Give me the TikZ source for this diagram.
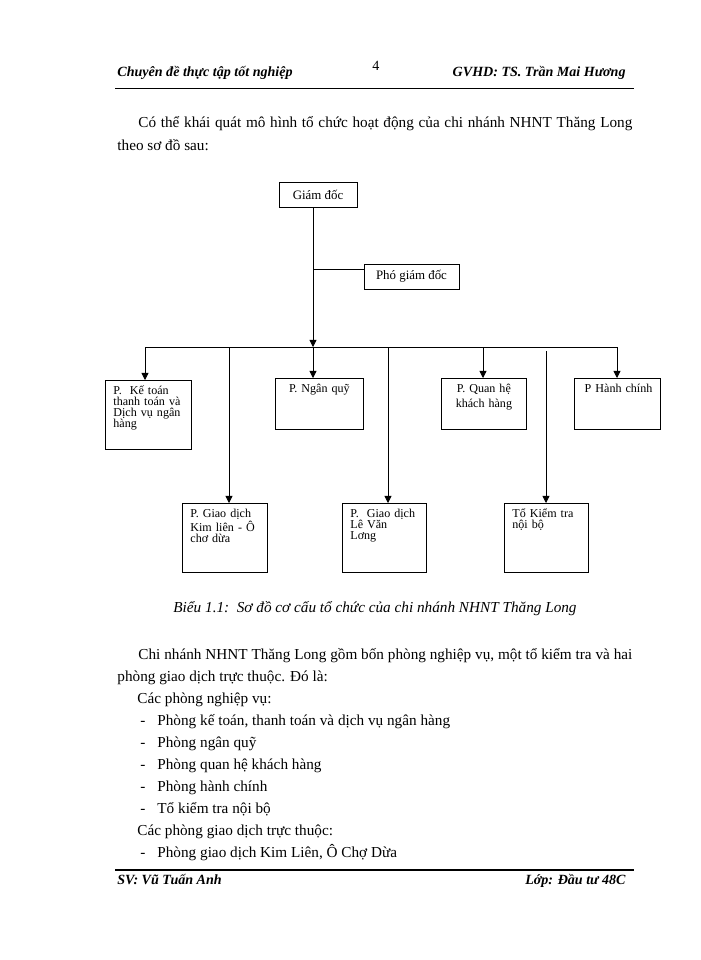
\documentclass[tikz,border=0pt]{standalone}
\usepackage{fontspec}
\setmainfont{Liberation Serif}
\usetikzlibrary{arrows.meta,positioning}

\tikzset{
  chief/.style={draw, inner sep=0pt, minimum height=7.5mm, font=\fontsize{11}{13}\selectfont},
  dept/.style 2 args={draw, anchor=north west, align=left, text width=#1, text height=9.5pt, text depth=#2,
    inner xsep=2.4mm, inner ysep=1mm, font=\fontsize{10.3}{9.4}\selectfont},
  link/.style={-{Triangle[width=6pt,length=6pt]}},
  body/.style={anchor=base west, inner sep=0pt, font=\fontsize{13}{18}\selectfont},
  pagehead/.style={inner sep=0pt, font=\fontsize{12}{14}\selectfont\bfseries\itshape},
}

\begin{document}
\begin{tikzpicture}[x=0.3mm, y=-0.3mm, line width=0.7pt]
  \path[use as bounding box, fill=white] (0,0) rectangle (700,960);

  % Page header
  \node[pagehead, anchor=base west] (headleft) at (117,77) {Chuyên đề thực tập tốt nghiệp};
  \node[inner sep=0pt, anchor=base, font=\fontsize{12}{14}\selectfont] (pagenum) at (376,71) {4};
  \node[pagehead, anchor=base east] (headright) at (626,77) {GVHD: TS. Trần Mai Hương};
  \draw[line width=1.5pt] (115,88.5) -- (634,88.5);

  % Intro text
  \node[body] (intro1) at (138,128) {\makebox[148.2mm][s]{Có thể khái quát mô hình tổ chức hoạt động của chi nhánh NHNT Thăng Long}};
  \node[body] (intro2) at (117,150) {theo sơ đồ sau:};

  % Board
  \node[chief, minimum width=23.4mm] (gd) at (318,194.5) {Giám đốc};
  \node[chief, minimum width=28.5mm] (pgd) at (411.5,276.5) {Phó giám đốc};

  % Departments, first row
  \node[dept={21mm}{15.5mm}] (ketoan) at (105,380) {P.\ \ Kế toán\\thanh toán và\\Dịch vụ ngân\\hàng};
  \node[dept={21.6mm}{9.96mm}, align=center] (nganquy) at (275,378) {P. Ngân quỹ};
  \node[dept={20.7mm}{9.96mm}, align=center] (quanhe) at (441,378) {P. Quan hệ\\[3pt]khách hàng};
  \node[dept={21mm}{9.96mm}, align=right] (hanhchinh) at (574,378) {P Hành chính};

  % Second row
  \node[dept={20.7mm}{15.5mm}] (kimlien) at (182,503) {P. Giao dịch\\Kim liên - Ô\\chơ dừa};
  \node[dept={20.4mm}{15.5mm}] (levanlong) at (342,503) {P.\ \ Giao dịch\\Lê Văn\\Lơng};
  \node[dept={20.4mm}{15.5mm}] (tokiemtra) at (504,503) {Tổ Kiểm tra\\nội bộ};

  % Connectors
  \coordinate (bus) at (313,347);
  \coordinate (pgdjoin) at (313,269);
  \coordinate (b1) at (145,347);
  \coordinate (b2) at (229,347);
  \coordinate (b4) at (388,347);
  \coordinate (b5) at (483,347);
  \coordinate (b6) at (546,351);
  \coordinate (b7) at (617,347);

  \draw[link] (gd.south -| bus) -- (bus);
  \draw (pgdjoin) -- (pgdjoin -| pgd.west);
  \draw (b1) -- (b7);
  \draw[link] (b1) -- (b1 |- ketoan.north);
  \draw[link] (b2) -- (b2 |- kimlien.north);
  \draw[link] (bus) -- (bus |- nganquy.north);
  \draw[link] (b4) -- (b4 |- levanlong.north);
  \draw[link] (b5) -- (b5 |- quanhe.north);
  \draw[link] (b6) -- (b6 |- tokiemtra.north);
  \draw[link] (b7) -- (b7 |- hanhchinh.north);

  % Caption
  \node[body, anchor=base, font=\fontsize{13}{18}\selectfont\itshape] (caption) at (375,612) {Biểu 1.1:\ \ Sơ đồ cơ cấu tổ chức của chi nhánh NHNT Thăng Long};

  % Text below
  \node[body] (para1) at (138,659) {\makebox[148.2mm][s]{Chi nhánh NHNT Thăng Long gồm bốn phòng nghiệp vụ, một tổ kiểm tra và hai}};
  \node[body] (para2) at (117,681) {phòng giao dịch trực thuộc. Đó là:};
  \node[body] (group1) at (137,703) {Các phòng nghiệp vụ:};
  \node[body] (dash1) at (140,725) {-};
  \node[body] (item1) at (157,725) {Phòng kế toán, thanh toán và dịch vụ ngân hàng};
  \node[body] (dash2) at (140,747) {-};
  \node[body] (item2) at (157,747) {Phòng ngân quỹ};
  \node[body] (dash3) at (140,769) {-};
  \node[body] (item3) at (157,769) {Phòng quan hệ khách hàng};
  \node[body] (dash4) at (140,791) {-};
  \node[body] (item4) at (157,791) {Phòng hành chính};
  \node[body] (dash5) at (140,813) {-};
  \node[body] (item5) at (157,813) {Tổ kiểm tra nội bộ};
  \node[body] (group2) at (137,835) {Các phòng giao dịch trực thuộc:};
  \node[body] (dash6) at (140,857) {-};
  \node[body] (item6) at (157,857) {Phòng giao dịch Kim Liên, Ô Chợ Dừa};

  % Page footer
  \draw[line width=1.5pt] (115,870) -- (634,870);
  \node[pagehead, anchor=base west] (footleft) at (117,884) {SV: Vũ Tuấn Anh};
  \node[pagehead, anchor=base east] (footright) at (626,884) {Lớp: Đầu tư 48C};
\end{tikzpicture}
\end{document}
